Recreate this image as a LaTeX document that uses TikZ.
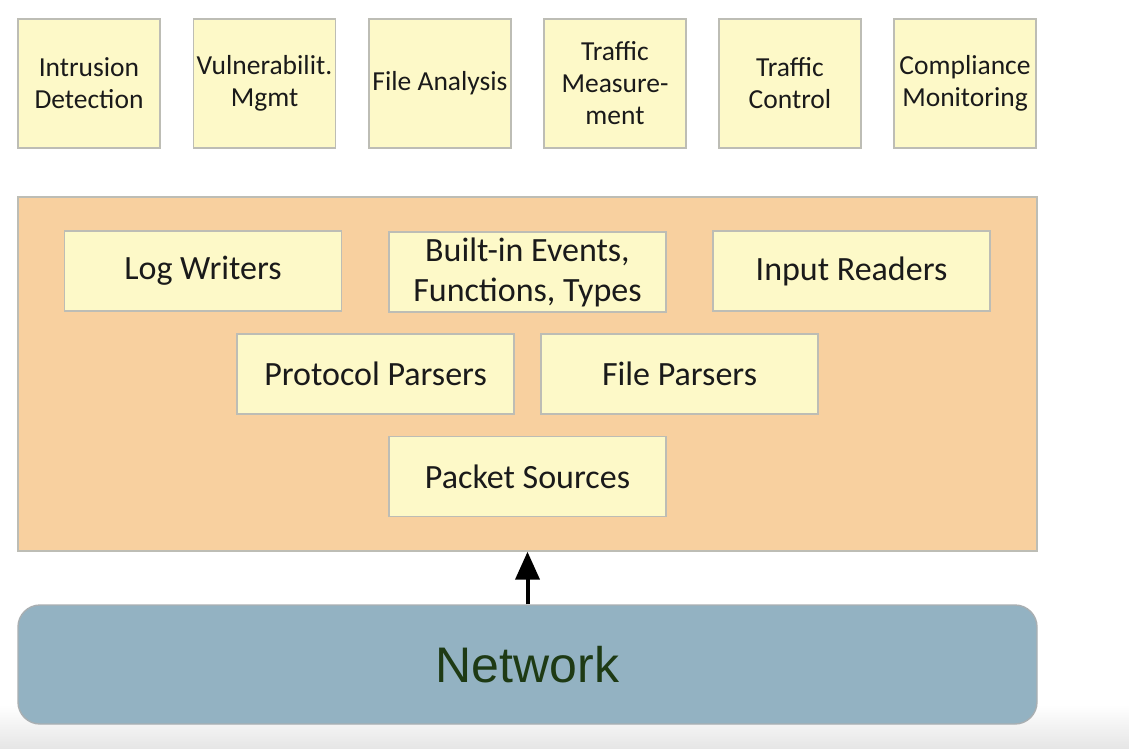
\documentclass[tikz,border=0pt]{standalone}
\usepackage{fontspec}
\setmainfont{Carlito}
\newfontfamily\netfont{Liberation Sans}
\usetikzlibrary{arrows.meta}
\definecolor{boxfill}{HTML}{FDF9C8}
\definecolor{boxline}{HTML}{BDBDB5}
\definecolor{corefill}{HTML}{F8D09F}
\definecolor{netfill}{HTML}{93B2C2}
\definecolor{netline}{HTML}{A9AFB2}
\definecolor{nettext}{HTML}{1E3A14}
\definecolor{textdark}{HTML}{1A1A1A}
\definecolor{bottomgray}{HTML}{E6E6E6}
\tikzset{
  appbox/.style={draw=boxline, fill=boxfill, line width=1.4pt, minimum width=142pt, minimum height=129pt, inner sep=0pt, align=center, text=textdark, font=\fontsize{27.5}{32}\selectfont},
  modbox/.style={draw=boxline, fill=boxfill, line width=1.4pt, minimum width=277pt, minimum height=80pt, inner sep=0pt, align=center, text=textdark, font=\fontsize{34}{40}\selectfont},
  corebox/.style={draw=boxline, fill=corefill, line width=1.4pt, minimum width=1019pt, minimum height=354pt, inner sep=0pt},
  netbox/.style={draw=netline, fill=netfill, line width=1.4pt, rounded corners=22pt, minimum width=1019pt, minimum height=119pt, inner sep=0pt, text=nettext, font=\netfont\fontsize{50}{54}\selectfont},
  uparrow/.style={line width=4pt, -{Triangle[width=24pt,length=28pt]}}
}
\begin{document}
\begin{tikzpicture}[x=1pt,y=-1pt]
\useasboundingbox (0,0) rectangle (1129,748);
\fill[white] (0,0) rectangle (1129,748);
\shade[top color=white, bottom color=bottomgray] (0,705) rectangle (1129,748);
% applications
\node[appbox] (ids) at (89,83.5) {Intrusion\\Detection};
\node[appbox] (vul) at (264.5,83.5) {Vulnerabilit.\\Mgmt};
\node[appbox] (fa) at (440,83.5) {File Analysis};
\node[appbox] (tm) at (615,83.5) {Traffic\\Measure-\\ment};
\node[appbox] (tc) at (790,83.5) {Traffic\\Control};
\node[appbox] (cm) at (965,83.5) {Compliance\\Monitoring};
% core
\node[corebox] (core) at (527.5,374) {};
\node[modbox] (log) at (203,271) {Log Writers};
\node[modbox] (bif) at (527.5,272) {Built-in Events,\\Functions, Types};
\node[modbox] (inp) at (851.5,271) {Input Readers};
\node[modbox] (pp) at (375.5,374) {Protocol Parsers};
\node[modbox] (fp) at (679.5,374) {File Parsers};
\node[modbox] (ps) at (527.5,476.5) {Packet Sources};
% network
\node[netbox] (net) at (527.5,664.5) {Network};
\draw[uparrow] (net.north) -- (core.south);
\end{tikzpicture}
\end{document}
